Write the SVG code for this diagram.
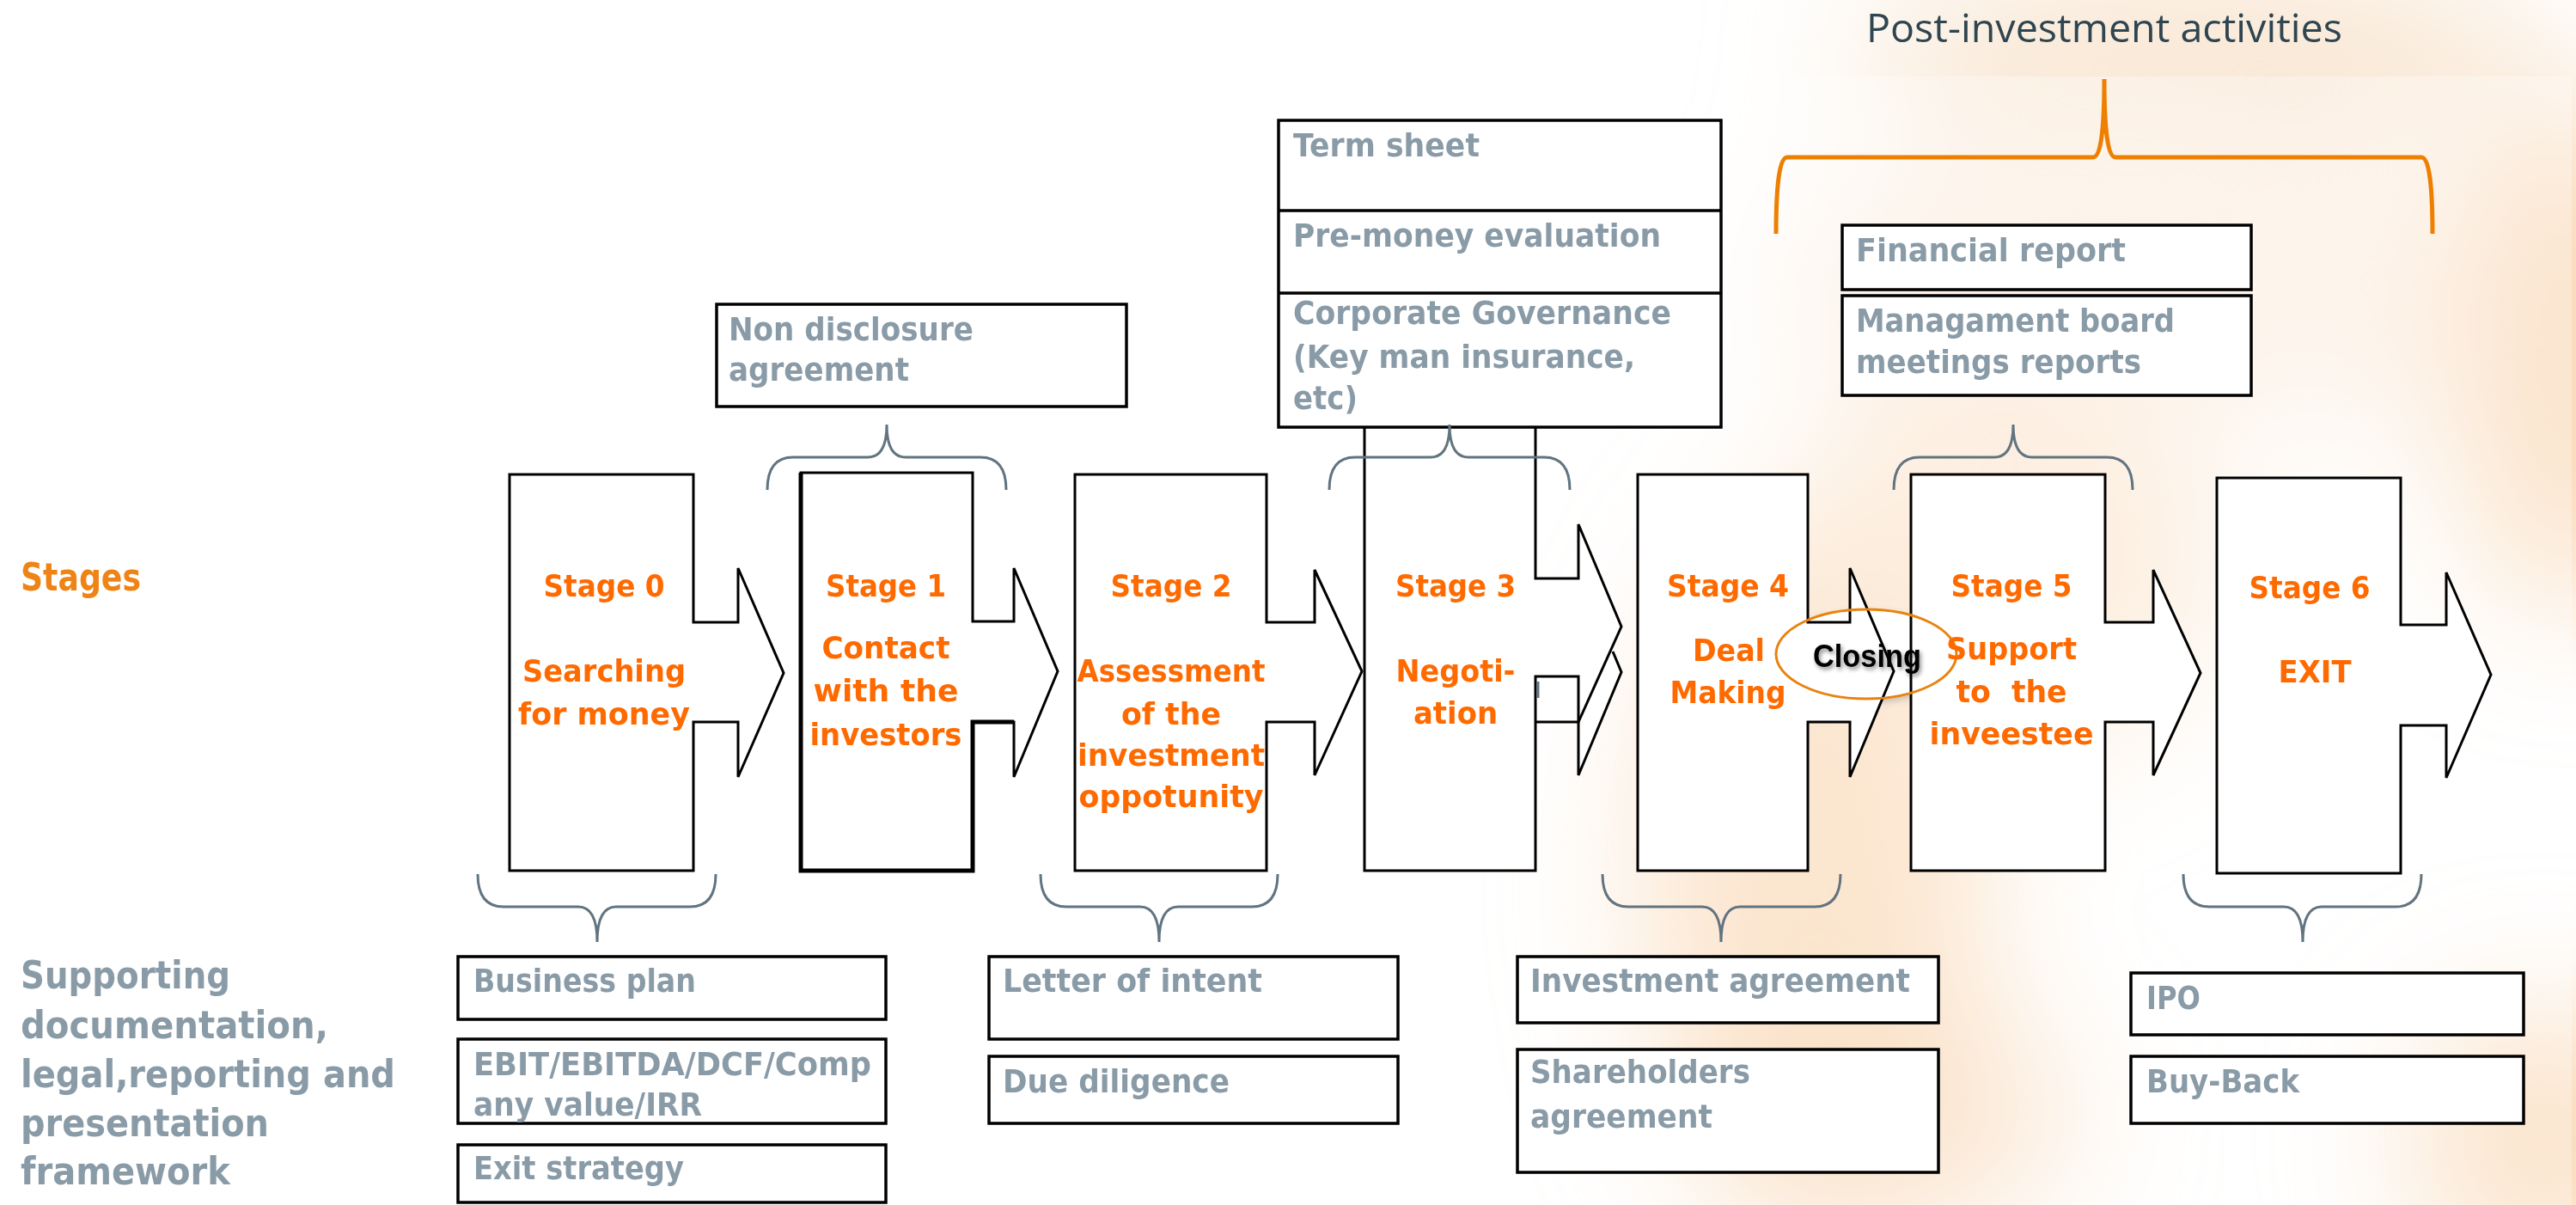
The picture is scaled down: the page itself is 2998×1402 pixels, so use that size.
<svg xmlns="http://www.w3.org/2000/svg" width="2998" height="1402" viewBox="0 0 2998 1402">
<defs>
<filter id="blur" filterUnits="userSpaceOnUse" x="0" y="0" width="2998" height="1402"><feGaussianBlur stdDeviation="80"/></filter>
<filter id="tshadow" x="-20%" y="-50%" width="140%" height="200%"><feDropShadow dx="2" dy="3" stdDeviation="2.5" flood-color="#000" flood-opacity="0.45"/></filter>
<filter id="eshadow" x="-20%" y="-30%" width="140%" height="170%"><feDropShadow dx="2" dy="4" stdDeviation="4" flood-color="#555" flood-opacity="0.35"/></filter>
</defs>
<style>
.stage{fill:#fff;stroke:#000;stroke-width:3;stroke-linejoin:miter}
.ln{fill:none;stroke:#000;stroke-width:3;stroke-linejoin:miter}
.box{fill:#fff;stroke:#000;stroke-width:3.5}
.brace{fill:none;stroke:#617480;stroke-width:3}
.obrace{fill:none;stroke:#EE7F00;stroke-width:5}
.st{font-family:"DejaVu Sans",sans-serif;font-weight:bold;font-size:36px;fill:#FF6A00;text-anchor:middle}
.doc{font-family:"DejaVu Sans",sans-serif;font-weight:bold;font-size:38px;fill:#8A9BA8}
.lbl{font-family:"DejaVu Sans",sans-serif;font-weight:bold;font-size:44px}
</style>

<g id="background">
<rect width="2998" height="1402" fill="#fff"/>
<g filter="url(#blur)">
<ellipse cx="2110" cy="1020" rx="200" ry="420" fill="#F8CFA3" opacity="0.75"/>
<ellipse cx="2200" cy="1300" rx="220" ry="140" fill="#F8D3AE" opacity="0.7"/>
<ellipse cx="2330" cy="650" rx="260" ry="230" fill="#FBE2C8" opacity="0.8"/>
<ellipse cx="2340" cy="330" rx="260" ry="150" fill="#FBE6D2" opacity="0.7"/>
<ellipse cx="2990" cy="420" rx="140" ry="300" fill="#F7CFA5" opacity="0.8"/>
<ellipse cx="2960" cy="1330" rx="160" ry="160" fill="#F7CFA5" opacity="0.8"/>
<ellipse cx="2560" cy="60" rx="420" ry="90" fill="#F6DDC2" opacity="0.8"/>
<ellipse cx="2700" cy="330" rx="200" ry="180" fill="#FBE6D2" opacity="0.6"/>
</g>
<rect x="0" y="89" width="2993" height="1313" fill="#fff" opacity="0.3"/>
</g>

<g id="closing-fill"><ellipse cx="2172" cy="761" rx="105" ry="52" fill="#fff" filter="url(#eshadow)"/></g>

<g id="stage0"><polygon class="stage" points="593,552 807,552 807,724 859,724 859,661 912,783 859,904 859,840 807,840 807,1013 593,1013"/></g>
<g id="stage1"><polygon class="stage" points="932,550 1132,550 1132,723 1180,723 1180,661 1231,781 1180,904 1180,840 1132,840 1132,1013 932,1013"/>
<path class="ln" style="stroke-width:5" d="M1180,840 H1132 V1013 H932 V550"/></g>
<g id="stage2"><polygon class="stage" points="1251,552 1474,552 1474,724 1530,724 1530,663 1585,781 1530,902 1530,840 1474,840 1474,1013 1251,1013"/></g>
<g id="stage3"><polygon fill="#fff" points="1588,497 1787,497 1787,673 1837,673 1837,610 1887,729 1877,758 1887,782 1837,902 1837,840 1787,840 1787,1013 1588,1013"/>
<path class="ln" d="M1588,497 V1013 H1787 V787 H1837 V902 L1887,782 L1877,758"/>
<path class="ln" d="M1787,497 V673 H1837 V610 L1887,729 L1837,840 H1787"/>
<line x1="1790" y1="793" x2="1790" y2="812" stroke="#617480" stroke-width="3"/></g>
<g id="stage4"><polygon class="stage" points="1906,552 2104,552 2104,724 2153,724 2153,661 2204,781 2153,904 2153,840 2104,840 2104,1013 1906,1013"/></g>
<g id="stage5"><polygon class="stage" points="2224,552 2450,552 2450,724 2506,724 2506,663 2561,783 2506,902 2506,840 2450,840 2450,1013 2224,1013"/></g>
<g id="stage6"><polygon class="stage" points="2580,556 2794,556 2794,727 2847,727 2847,666 2899,785 2847,905 2847,844 2794,844 2794,1016 2580,1016"/></g>

<g id="doc-nda"><rect class="box" x="834" y="354" width="477" height="119"/>
<text class="doc" x="848" y="396" textLength="285" lengthAdjust="spacingAndGlyphs">Non disclosure</text>
<text class="doc" x="848" y="443" textLength="210" lengthAdjust="spacingAndGlyphs">agreement</text></g>

<g id="doc-negotiation"><rect class="box" x="1488" y="140" width="515" height="357"/>
<line x1="1488" y1="245" x2="2003" y2="245" stroke="#000" stroke-width="3.5"/>
<line x1="1488" y1="341" x2="2003" y2="341" stroke="#000" stroke-width="3.5"/>
<text class="doc" x="1505" y="182" textLength="217" lengthAdjust="spacingAndGlyphs">Term sheet</text>
<text class="doc" x="1505" y="287" textLength="428" lengthAdjust="spacingAndGlyphs">Pre-money evaluation</text>
<text class="doc" x="1505" y="377" textLength="440" lengthAdjust="spacingAndGlyphs">Corporate Governance</text>
<text class="doc" x="1505" y="428" textLength="398" lengthAdjust="spacingAndGlyphs">(Key man insurance,</text>
<text class="doc" x="1505" y="476" textLength="75" lengthAdjust="spacingAndGlyphs">etc)</text></g>

<g id="doc-financial"><rect class="box" x="2144" y="262" width="476" height="75"/>
<text class="doc" x="2160" y="304" textLength="314" lengthAdjust="spacingAndGlyphs">Financial report</text></g>
<g id="doc-board"><rect class="box" x="2144" y="344" width="476" height="116"/>
<text class="doc" x="2160" y="386" textLength="371" lengthAdjust="spacingAndGlyphs">Managament board</text>
<text class="doc" x="2160" y="434" textLength="332" lengthAdjust="spacingAndGlyphs">meetings reports</text></g>

<g id="doc-bp"><rect class="box" x="533" y="1113" width="498" height="73"/>
<text class="doc" x="551" y="1154" textLength="259" lengthAdjust="spacingAndGlyphs">Business plan</text></g>
<g id="doc-ebit"><rect class="box" x="533" y="1209" width="498" height="98"/>
<text class="doc" x="551" y="1251" textLength="463" lengthAdjust="spacingAndGlyphs">EBIT/EBITDA/DCF/Comp</text>
<text class="doc" x="551" y="1298" textLength="266" lengthAdjust="spacingAndGlyphs">any value/IRR</text></g>
<g id="doc-exit"><rect class="box" x="533" y="1332" width="498" height="67"/>
<text class="doc" x="551" y="1372" textLength="245" lengthAdjust="spacingAndGlyphs">Exit strategy</text></g>
<g id="doc-loi"><rect class="box" x="1151" y="1113" width="476" height="96"/>
<text class="doc" x="1167" y="1154" textLength="302" lengthAdjust="spacingAndGlyphs">Letter of intent</text></g>
<g id="doc-dd"><rect class="box" x="1151" y="1229" width="476" height="78"/>
<text class="doc" x="1167" y="1271" textLength="264" lengthAdjust="spacingAndGlyphs">Due diligence</text></g>
<g id="doc-ia"><rect class="box" x="1766" y="1113" width="490" height="77"/>
<text class="doc" x="1781" y="1154" textLength="442" lengthAdjust="spacingAndGlyphs">Investment agreement</text></g>
<g id="doc-sha"><rect class="box" x="1766" y="1221" width="490" height="143"/>
<text class="doc" x="1781" y="1260" textLength="256" lengthAdjust="spacingAndGlyphs">Shareholders</text>
<text class="doc" x="1781" y="1312" textLength="212" lengthAdjust="spacingAndGlyphs">agreement</text></g>
<g id="doc-ipo"><rect class="box" x="2480" y="1132" width="457" height="72"/>
<text class="doc" x="2498" y="1174" textLength="63" lengthAdjust="spacingAndGlyphs">IPO</text></g>
<g id="doc-buyback"><rect class="box" x="2480" y="1229" width="457" height="78"/>
<text class="doc" x="2498" y="1271" textLength="178" lengthAdjust="spacingAndGlyphs">Buy-Back</text></g>

<g id="connectors">
<path class="brace" d="M893,570 Q893,532 923,532 L1010,532 Q1032,532 1032,494 Q1032,532 1054,532 L1141,532 Q1171,532 1171,570"/>
<path class="brace" d="M1547,570 Q1547,532 1577,532 L1665,532 Q1687,532 1687,494 Q1687,532 1709,532 L1797,532 Q1827,532 1827,570"/>
<path class="brace" d="M2204,570 Q2204,532 2234,532 L2321,532 Q2343,532 2343,494 Q2343,532 2365,532 L2452,532 Q2482,532 2482,570"/>
<path class="brace" d="M556,1017 Q556,1055 586,1055 L673,1055 Q695,1055 695,1096 Q695,1055 717,1055 L803,1055 Q833,1055 833,1017"/>
<path class="brace" d="M1211,1017 Q1211,1055 1241,1055 L1327,1055 Q1349,1055 1349,1096 Q1349,1055 1371,1055 L1457,1055 Q1487,1055 1487,1017"/>
<path class="brace" d="M1865,1017 Q1865,1055 1895,1055 L1981,1055 Q2003,1055 2003,1096 Q2003,1055 2025,1055 L2112,1055 Q2142,1055 2142,1017"/>
<path class="brace" d="M2541,1017 Q2541,1055 2571,1055 L2658,1055 Q2680,1055 2680,1096 Q2680,1055 2702,1055 L2788,1055 Q2818,1055 2818,1017"/>
<path class="obrace" d="M2067,272 Q2067,183 2080,183 L2436,183 Q2449,183 2449,92 Q2449,183 2462,183 L2818,183 Q2831,183 2831,272"/>
</g>

<g id="closing">
<ellipse cx="2172" cy="761" rx="105" ry="52" fill="none" stroke="#E8830F" stroke-width="3"/>
<text x="2110" y="776" font-family="Liberation Sans, sans-serif" font-weight="bold" font-size="37" fill="#000" textLength="126" lengthAdjust="spacingAndGlyphs" filter="url(#tshadow)">Closing</text>
</g>

<g id="stage-labels">
<text class="st" x="703" y="694" textLength="141" lengthAdjust="spacingAndGlyphs">Stage 0</text>
<text class="st" x="703" y="793" textLength="190" lengthAdjust="spacingAndGlyphs">Searching</text>
<text class="st" x="703" y="843" textLength="200" lengthAdjust="spacingAndGlyphs">for money</text>
<text class="st" x="1031" y="694" textLength="140" lengthAdjust="spacingAndGlyphs">Stage 1</text>
<text class="st" x="1031" y="766" textLength="149" lengthAdjust="spacingAndGlyphs">Contact</text>
<text class="st" x="1031" y="816" textLength="169" lengthAdjust="spacingAndGlyphs">with the</text>
<text class="st" x="1031" y="867" textLength="177" lengthAdjust="spacingAndGlyphs">investors</text>
<text class="st" x="1363" y="694" textLength="141" lengthAdjust="spacingAndGlyphs">Stage 2</text>
<text class="st" x="1363" y="793" textLength="219" lengthAdjust="spacingAndGlyphs">Assessment</text>
<text class="st" x="1363" y="843" textLength="116" lengthAdjust="spacingAndGlyphs">of the</text>
<text class="st" x="1363" y="891" textLength="218" lengthAdjust="spacingAndGlyphs">investment</text>
<text class="st" x="1363" y="939" textLength="215" lengthAdjust="spacingAndGlyphs">oppotunity</text>
<text class="st" x="1694" y="694" textLength="140" lengthAdjust="spacingAndGlyphs">Stage 3</text>
<text class="st" x="1694" y="793" textLength="139" lengthAdjust="spacingAndGlyphs">Negoti-</text>
<text class="st" x="1694" y="842" textLength="98" lengthAdjust="spacingAndGlyphs">ation</text>
<text class="st" x="2011" y="694" textLength="142" lengthAdjust="spacingAndGlyphs">Stage 4</text>
<text class="st" x="2012" y="769" textLength="84" lengthAdjust="spacingAndGlyphs">Deal</text>
<text class="st" x="2011" y="818" textLength="135" lengthAdjust="spacingAndGlyphs">Making</text>
<text class="st" x="2341" y="694" textLength="141" lengthAdjust="spacingAndGlyphs">Stage 5</text>
<text class="st" x="2341" y="767" textLength="152" lengthAdjust="spacingAndGlyphs">Support</text>
<text class="st" x="2341" y="817" textLength="129" lengthAdjust="spacingAndGlyphs" xml:space="preserve">to  the</text>
<text class="st" x="2341" y="866" textLength="191" lengthAdjust="spacingAndGlyphs">inveestee</text>
<text class="st" x="2688" y="696" textLength="141" lengthAdjust="spacingAndGlyphs">Stage 6</text>
<text class="st" x="2694" y="794" textLength="85" lengthAdjust="spacingAndGlyphs">EXIT</text>
</g>

<g id="row-labels">
<text class="lbl" x="24" y="687" fill="#EF8416" textLength="140" lengthAdjust="spacingAndGlyphs">Stages</text>
<text class="lbl" x="24" y="1150" fill="#8A9BA8" textLength="244" lengthAdjust="spacingAndGlyphs">Supporting</text>
<text class="lbl" x="24" y="1208" fill="#8A9BA8" textLength="358" lengthAdjust="spacingAndGlyphs">documentation,</text>
<text class="lbl" x="24" y="1265" fill="#8A9BA8" textLength="436" lengthAdjust="spacingAndGlyphs">legal,reporting and</text>
<text class="lbl" x="24" y="1322" fill="#8A9BA8" textLength="289" lengthAdjust="spacingAndGlyphs">presentation</text>
<text class="lbl" x="24" y="1378" fill="#8A9BA8" textLength="244" lengthAdjust="spacingAndGlyphs">framework</text>
</g>

<g id="title">
<text x="2172" y="49" font-family="Open Sans, sans-serif" font-size="46" fill="#2F4550" textLength="554" lengthAdjust="spacingAndGlyphs">Post-investment activities</text>
</g>
</svg>
